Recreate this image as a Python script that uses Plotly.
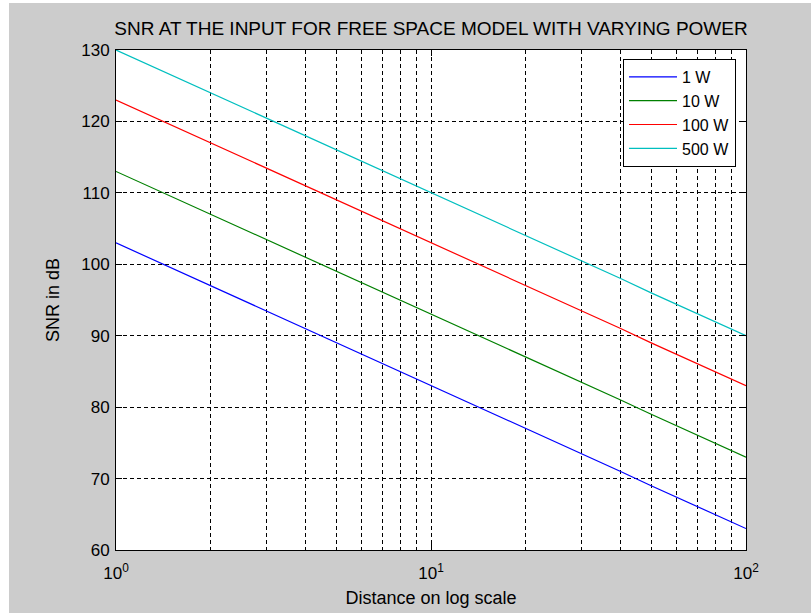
import plotly.graph_objects as go

# ---- data ----
distance = [1, 2, 3, 4, 5, 6, 7, 8, 9, 10, 20, 30, 40, 50, 60, 70, 80, 90, 100]
snr_1w   = [103, 97.0, 93.5, 91.0, 89.0, 87.4, 86.1, 84.9, 83.9, 83.0, 77.0, 73.5, 71.0, 69.0, 67.4, 66.1, 64.9, 63.9, 63.0]
snr_10w  = [113, 107.0, 103.5, 101.0, 99.0, 97.4, 96.1, 94.9, 93.9, 93.0, 87.0, 83.5, 81.0, 79.0, 77.4, 76.1, 74.9, 73.9, 73.0]
snr_100w = [123, 117.0, 113.5, 111.0, 109.0, 107.4, 106.1, 104.9, 103.9, 103.0, 97.0, 93.5, 91.0, 89.0, 87.4, 86.1, 84.9, 83.9, 83.0]
snr_500w = [130, 124.0, 120.5, 118.0, 116.0, 114.4, 113.1, 111.9, 110.9, 110.0, 104.0, 100.5, 98.0, 96.0, 94.4, 93.1, 91.9, 90.9, 90.0]
series_names = ["1 W", "10 W", "100 W", "500 W"]

x_major_ticks = [1, 10, 100]
x_major_text = ["10<sup>0</sup>", "10<sup>1</sup>", "10<sup>2</sup>"]
x_minor_ticks = [2, 3, 4, 5, 6, 7, 8, 9, 20, 30, 40, 50, 60, 70, 80, 90]
y_ticks = [60, 70, 80, 90, 100, 110, 120, 130]

colors = ["#0000ff", "#008000", "#ff0000", "#00bfbf"]
FONT = "Liberation Sans, Arial, sans-serif"
GREY = "#cccccc"
TXT = 18
TICK = 17

fig = go.Figure()
for name, ys, c in zip(series_names, [snr_1w, snr_10w, snr_100w, snr_500w], colors):
    fig.add_trace(go.Scatter(x=distance, y=ys, mode="lines", name=name,
                             line=dict(color=c, width=1.2)))

# plot geometry (pixels)
W, H = 811, 613
L, R, T, B = 116, 746, 50, 550
pw, ph = R - L, B - T

fig.update_layout(
    width=W, height=H,
    margin=dict(l=L, r=W - R, t=T, b=H - B, autoexpand=False),
    paper_bgcolor="white",
    plot_bgcolor="white",
    font=dict(family=FONT, size=TXT, color="black"),
    title=dict(text="SNR AT THE INPUT FOR FREE SPACE MODEL WITH VARYING POWER",
               x=0.5, xref="paper", xanchor="center",
               y=1 - 28 / H, yref="container", yanchor="middle",
               font=dict(family=FONT, size=19, color="black")),
    showlegend=True,
    legend=dict(x=(736 - L) / pw, xanchor="right", y=(B - 59) / ph, yanchor="top",
                bgcolor="white", bordercolor="black", borderwidth=1,
                font=dict(family=FONT, size=16, color="black"),
                itemwidth=48, tracegroupgap=0),
    shapes=[
        dict(type="rect", xref="paper", yref="paper", layer="below",
             x0=(9 - L) / pw, x1=1.2, y0=-0.3, y1=(B - 3) / ph,
             fillcolor=GREY, line=dict(width=0)),
        dict(type="rect", xref="paper", yref="paper", layer="below",
             x0=0, x1=1, y0=0, y1=1,
             fillcolor="white", line=dict(width=0)),
    ],
)

fig.update_xaxes(
    type="log", range=[0, 2],
    tickmode="array", tickvals=x_major_ticks, ticktext=x_major_text,
    ticks="inside", ticklen=6, tickcolor="black", tickwidth=1,
    ticklabelstandoff=8,
    showgrid=True, gridcolor="black", gridwidth=1, griddash="4px,3px",
    minor=dict(tickmode="array", tickvals=x_minor_ticks, ticks="inside",
               ticklen=3, tickcolor="black", showgrid=True,
               gridcolor="black", gridwidth=1, griddash="4px,3px"),
    showline=True, linecolor="black", linewidth=1, mirror="allticks",
    zeroline=False,
    tickfont=dict(family=FONT, size=TICK, color="black"),
    title=dict(text="Distance on log scale", standoff=8,
               font=dict(family=FONT, size=TXT, color="black")),
)
fig.update_yaxes(
    range=[60, 130],
    tickmode="array", tickvals=y_ticks,
    ticks="inside", ticklen=6, tickcolor="black", tickwidth=1,
    ticklabelstandoff=2,
    showgrid=True, gridcolor="black", gridwidth=1, griddash="4px,3px",
    showline=True, linecolor="black", linewidth=1, mirror="allticks",
    zeroline=False,
    tickfont=dict(family=FONT, size=TICK, color="black"),
    title=dict(text="SNR in dB", standoff=16,
               font=dict(family=FONT, size=TXT, color="black")),
)

fig.write_html("out.html", config={"displayModeBar": False},
               post_script="document.body.style.margin='0px';")
